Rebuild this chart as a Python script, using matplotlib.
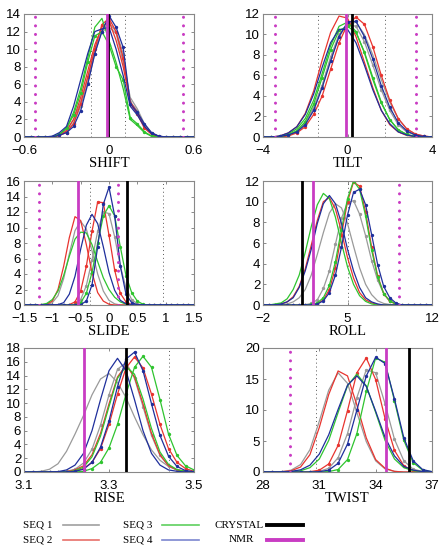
import numpy as np
import matplotlib
matplotlib.use("Agg")
import matplotlib.pyplot as plt
from matplotlib.lines import Line2D

plt.rcParams['font.family'] = ['Liberation Sans', 'DejaVu Sans']

# colours of the four sequences and the reference structures
seq_colors = ['#9a9a9a', '#e8342f', '#2fc42f', '#1f2f9c']
legend_colors = ['#a0a0a0', '#e8706a', '#5fcf5f', '#7b86d0']
seq_names = ['SEQ 1', 'SEQ 2', 'SEQ 3', 'SEQ 4']
crystal_color = 'black'
nmr_color = '#c93cc3'

# ---------------- SHIFT ----------------
shift_x = np.linspace(-0.6, 0.6, 25)
shift_seq1 = [[0, 0, 0, 0, 0, 0.3, 0.8, 2.0, 4.0, 6.8, 10.0, 12.0, 12.5, 11.8, 8.5, 4.5, 3.2, 1.5, 0.5, 0.1, 0, 0, 0, 0, 0],
              [0, 0, 0, 0, 0, 0.2, 0.6, 1.6, 3.5, 6.2, 9.5, 12.2, 13.0, 12.0, 9.5, 4.0, 3.0, 1.2, 0.4, 0.1, 0, 0, 0, 0, 0]]
shift_seq2 = [[0, 0, 0, 0, 0, 0.2, 0.7, 2.0, 4.5, 7.5, 10.5, 12.5, 13.2, 11.0, 8.0, 4.0, 2.8, 1.2, 0.4, 0, 0, 0, 0, 0, 0],
              [0, 0, 0, 0, 0, 0.2, 0.5, 1.5, 3.8, 6.8, 10.0, 12.8, 13.5, 12.0, 9.0, 3.8, 2.6, 1.0, 0.3, 0, 0, 0, 0, 0, 0]]
shift_seq3 = [[0, 0, 0, 0, 0, 0.3, 1.0, 2.8, 5.5, 9.0, 12.5, 13.5, 11.0, 8.5, 5.5, 2.0, 1.3, 0.5, 0.1, 0, 0, 0, 0, 0, 0],
              [0, 0, 0, 0, 0, 0.3, 1.0, 2.5, 5.0, 8.5, 11.5, 12.0, 10.5, 8.0, 6.5, 2.2, 1.5, 0.6, 0.1, 0, 0, 0, 0, 0, 0]]
shift_seq4 = [[0, 0, 0, 0, 0.1, 0.5, 1.2, 3.5, 6.5, 9.5, 12.0, 12.3, 12.5, 10.0, 7.0, 3.5, 2.5, 1.2, 0.4, 0.1, 0, 0, 0, 0, 0],
              [0, 0, 0, 0, 0, 0.2, 0.5, 1.2, 3.0, 6.0, 9.5, 12.0, 13.8, 12.5, 10.2, 3.8, 2.8, 1.5, 0.5, 0.1, 0, 0, 0, 0, 0]]

# ---------------- TILT ----------------
tilt_x = np.linspace(-4, 4, 21)
tilt_seq1 = [[0, 0, 0.05, 0.2, 0.6, 1.4, 2.9, 5.0, 7.6, 9.8, 11.0, 11.2, 10.0, 8.0, 5.6, 3.4, 1.8, 0.8, 0.3, 0.1, 0],
             [0, 0, 0.05, 0.2, 0.5, 1.3, 2.8, 5.0, 7.8, 10.0, 11.0, 10.8, 9.3, 7.0, 4.6, 2.6, 1.2, 0.5, 0.2, 0.05, 0]]
tilt_seq2 = [[0, 0, 0.1, 0.4, 1.0, 2.3, 4.5, 7.5, 10.2, 11.8, 11.6, 9.8, 7.3, 4.8, 2.6, 1.2, 0.5, 0.15, 0.05, 0, 0],
             [0, 0, 0, 0.1, 0.4, 1.0, 2.2, 4.0, 6.6, 9.2, 11.0, 11.7, 11.0, 8.8, 6.0, 3.6, 1.8, 0.8, 0.3, 0.1, 0]]
tilt_seq3 = [[0, 0, 0.05, 0.3, 0.8, 1.8, 3.6, 6.2, 8.9, 10.8, 11.2, 10.3, 8.2, 5.6, 3.3, 1.7, 0.7, 0.25, 0.05, 0, 0],
             [0, 0, 0.05, 0.2, 0.6, 1.5, 3.2, 5.8, 8.5, 10.4, 10.8, 10.2, 8.3, 5.8, 3.4, 1.7, 0.7, 0.25, 0.05, 0, 0]]
tilt_seq4 = [[0, 0, 0.1, 0.4, 1.0, 2.2, 4.2, 6.8, 9.2, 10.5, 10.5, 9.2, 7.0, 4.6, 2.6, 1.3, 0.5, 0.2, 0.05, 0, 0],
             [0, 0, 0.05, 0.2, 0.5, 1.2, 2.6, 4.8, 7.4, 9.8, 11.2, 11.3, 9.8, 7.6, 5.0, 2.9, 1.4, 0.6, 0.2, 0.05, 0]]

# ---------------- SLIDE ----------------
slide_x = np.linspace(-1.5, 1.5, 31)
slide_seq1 = [[0, 0, 0, 0, 0.05, 0.3, 1.2, 3.4, 6.6, 9.6, 10.8, 9.8, 7.0, 4.0, 1.8, 0.6, 0.15, 0, 0, 0, 0, 0, 0, 0, 0, 0, 0, 0, 0, 0, 0],
              [0, 0, 0, 0, 0, 0, 0, 0, 0, 0.1, 0.7, 2.5, 5.8, 9.5, 12.0, 11.8, 8.8, 5.0, 2.2, 0.7, 0.15, 0, 0, 0, 0, 0, 0, 0, 0, 0, 0]]
slide_seq2 = [[0, 0, 0, 0.02, 0.1, 0.5, 2.0, 5.0, 8.7, 11.4, 10.9, 7.8, 4.2, 1.6, 0.5, 0.1, 0, 0, 0, 0, 0, 0, 0, 0, 0, 0, 0, 0, 0, 0, 0],
              [0, 0, 0, 0, 0, 0, 0, 0, 0.05, 0.4, 1.8, 5.0, 9.5, 13.3, 13.2, 9.0, 4.5, 1.5, 0.4, 0.05, 0, 0, 0, 0, 0, 0, 0, 0, 0, 0, 0]]
slide_seq3 = [[0, 0, 0, 0.05, 0.2, 0.7, 1.8, 3.8, 6.3, 8.5, 9.4, 9.3, 7.8, 5.6, 3.5, 2.0, 1.0, 0.4, 0.1, 0, 0, 0, 0, 0, 0, 0, 0, 0, 0, 0, 0],
              [0, 0, 0, 0, 0, 0, 0, 0, 0, 0.05, 0.3, 1.5, 4.2, 8.0, 11.5, 12.8, 11.5, 7.5, 3.8, 1.6, 0.5, 0.1, 0, 0, 0, 0, 0, 0, 0, 0, 0]]
slide_seq4 = [[0, 0, 0, 0, 0, 0, 0.05, 0.3, 1.4, 3.7, 7.2, 10.3, 11.7, 10.5, 7.5, 4.2, 1.9, 0.6, 0.15, 0, 0, 0, 0, 0, 0, 0, 0, 0, 0, 0, 0],
              [0, 0, 0, 0, 0, 0, 0, 0, 0, 0, 0.05, 0.5, 2.6, 7.5, 13.0, 15.2, 11.5, 5.0, 1.4, 0.3, 0.05, 0, 0, 0, 0, 0, 0, 0, 0, 0, 0]]

# ---------------- ROLL ----------------
roll_x = np.linspace(-2, 12, 29)
roll_seq1 = [[0, 0, 0, 0.05, 0.1, 0.3, 0.7, 1.5, 2.9, 4.9, 7.0, 8.9, 9.8, 9.4, 7.9, 5.7, 3.6, 2.0, 1.0, 0.4, 0.15, 0.05, 0, 0, 0, 0, 0, 0, 0],
             [0, 0, 0, 0, 0, 0, 0, 0.03, 0.15, 0.5, 1.6, 3.3, 5.9, 8.4, 9.9, 10.1, 8.8, 6.7, 4.3, 2.4, 1.1, 0.4, 0.1, 0, 0, 0, 0, 0, 0]]
roll_seq2 = [[0, 0, 0, 0.1, 0.3, 0.8, 1.8, 3.5, 5.8, 8.2, 10.0, 10.4, 9.3, 7.1, 4.6, 2.6, 1.2, 0.5, 0.2, 0.05, 0, 0, 0, 0, 0, 0, 0, 0, 0],
             [0, 0, 0, 0, 0, 0, 0, 0, 0.03, 0.1, 0.5, 1.5, 3.6, 6.8, 10.0, 11.9, 11.5, 9.0, 5.6, 2.8, 1.1, 0.35, 0.1, 0, 0, 0, 0, 0, 0]]
roll_seq3 = [[0, 0, 0.1, 0.2, 0.6, 1.5, 2.9, 5.1, 7.6, 9.7, 10.8, 10.3, 8.5, 6.0, 3.7, 2.0, 0.9, 0.35, 0.1, 0, 0, 0, 0, 0, 0, 0, 0, 0, 0],
             [0, 0, 0, 0, 0, 0, 0, 0, 0.06, 0.2, 0.7, 1.9, 4.2, 7.3, 10.3, 12.0, 11.2, 8.6, 5.3, 2.7, 1.1, 0.4, 0.1, 0, 0, 0, 0, 0, 0]]
roll_seq4 = [[0, 0, 0, 0.1, 0.3, 0.7, 1.7, 3.3, 5.4, 7.9, 9.8, 10.6, 9.8, 7.9, 5.4, 3.3, 1.7, 0.7, 0.3, 0.1, 0, 0, 0, 0, 0, 0, 0, 0, 0],
             [0, 0, 0, 0, 0, 0, 0, 0, 0.02, 0.1, 0.4, 1.2, 2.9, 5.6, 8.7, 10.9, 11.2, 9.7, 6.8, 3.9, 1.8, 0.7, 0.2, 0, 0, 0, 0, 0, 0]]

# ---------------- RISE ----------------
rise_x = np.linspace(3.1, 3.5, 21)
rise_seq1 = [[0, 0, 0.1, 0.4, 1.2, 3.0, 5.5, 8.2, 11.2, 13.5, 14.3, 13.0, 10.8, 8.0, 5.4, 3.2, 1.7, 0.8, 0.3, 0.1, 0],
             [0, 0, 0, 0, 0, 0.1, 0.4, 1.3, 3.3, 6.8, 11.2, 14.9, 15.9, 13.6, 9.5, 5.3, 2.4, 0.9, 0.3, 0.1, 0]]
rise_seq2 = [[0, 0, 0, 0, 0, 0.05, 0.3, 0.9, 2.5, 5.6, 9.9, 13.8, 15.5, 13.8, 9.9, 5.6, 2.5, 0.9, 0.3, 0.1, 0],
             [0, 0, 0, 0, 0, 0.05, 0.1, 0.5, 1.4, 3.4, 6.9, 11.3, 15.1, 16.7, 15.1, 11.3, 6.9, 3.4, 1.4, 0.5, 0.1]]
rise_seq3 = [[0, 0, 0, 0, 0, 0, 0.2, 0.7, 2.2, 5.2, 9.5, 13.6, 15.3, 14.2, 10.6, 6.3, 2.9, 1.1, 0.35, 0.1, 0],
             [0, 0, 0, 0, 0, 0, 0, 0.1, 0.5, 1.4, 3.5, 6.9, 11.3, 15.2, 16.8, 15.2, 10.5, 5.5, 2.4, 0.9, 0.3]]
rise_seq4 = [[0, 0, 0, 0, 0.05, 0.3, 1.0, 2.7, 6.0, 10.5, 14.7, 16.5, 14.7, 10.5, 6.0, 2.7, 1.0, 0.3, 0.1, 0, 0],
             [0, 0, 0, 0, 0, 0, 0.1, 0.4, 1.4, 3.6, 7.4, 12.4, 16.4, 17.4, 14.7, 9.9, 5.3, 2.3, 0.8, 0.2, 0.05]]

# ---------------- TWIST ----------------
twist_x = np.linspace(28, 37, 19)
twist_seq1 = [[0, 0, 0.05, 0.3, 1.2, 3.6, 8.2, 13.2, 16.0, 14.3, 9.6, 4.9, 1.8, 0.5, 0.1, 0, 0, 0, 0],
              [0, 0, 0, 0, 0, 0, 0.1, 0.6, 2.3, 6.2, 12.0, 16.5, 16.0, 11.0, 5.3, 1.8, 0.45, 0.1, 0]]
twist_seq2 = [[0, 0, 0.05, 0.2, 0.8, 2.8, 7.2, 12.5, 16.3, 15.5, 10.8, 5.5, 2.0, 0.6, 0.1, 0, 0, 0, 0],
              [0, 0, 0, 0, 0, 0.05, 0.3, 1.3, 4.3, 9.9, 16.0, 18.4, 14.9, 8.6, 3.5, 1.0, 0.2, 0.05, 0]]
twist_seq3 = [[0, 0, 0, 0.05, 0.2, 0.7, 2.1, 5.1, 9.6, 13.9, 15.8, 13.9, 9.6, 5.1, 2.1, 0.7, 0.2, 0.05, 0],
              [0, 0, 0, 0, 0, 0, 0, 0.06, 0.4, 2.0, 6.2, 13.0, 18.4, 17.7, 11.5, 5.1, 1.5, 0.3, 0.05]]
twist_seq4 = [[0, 0, 0.02, 0.1, 0.35, 1.1, 2.9, 6.0, 10.1, 14.0, 15.5, 13.8, 9.8, 5.6, 2.6, 0.9, 0.3, 0.05, 0],
              [0, 0, 0, 0, 0, 0, 0.05, 0.3, 1.4, 4.5, 10.0, 15.5, 18.5, 17.5, 11.8, 5.5, 1.8, 0.4, 0.05]]

# reference values: crystal, NMR, NMR range (dotted magenta), other range (dotted grey)
crystal_vals = [-0.005, 0.2, 0.31, 1.26, 3.34, 35.78]
nmr_vals = [-0.015, -0.08, -0.54, 2.17, 3.24, 34.54]
nmr_range = [[-0.525, 0.52], [-3.41, 3.22], [-1.23, 0.15], [9.3], [], [29.45]]
grey_range = [[-0.13, 0.113], [-1.38, 1.76], [-0.34, 0.96], [5.0], [3.44], [30.83]]

names = ['SHIFT', 'TILT', 'SLIDE', 'ROLL', 'RISE', 'TWIST']
xs = [shift_x, tilt_x, slide_x, roll_x, rise_x, twist_x]
curves = [
    [shift_seq1, shift_seq2, shift_seq3, shift_seq4],
    [tilt_seq1, tilt_seq2, tilt_seq3, tilt_seq4],
    [slide_seq1, slide_seq2, slide_seq3, slide_seq4],
    [roll_seq1, roll_seq2, roll_seq3, roll_seq4],
    [rise_seq1, rise_seq2, rise_seq3, rise_seq4],
    [twist_seq1, twist_seq2, twist_seq3, twist_seq4],
]
xticks = [[-0.6, 0, 0.6], [-4, 0, 4], [-1.5, -1, -0.5, 0, 0.5, 1, 1.5],
          [-2, 5, 12], [3.1, 3.3, 3.5], [28, 31, 34, 37]]
xticklabels = [['\u22120.6', '0', '0.6'], ['\u22124', '0', '4'],
               ['\u22121.5', '\u22121', '\u22120.5', '0', '0.5', '1', '1.5'],
               ['\u22122', '5', '12'], ['3.1', '3.3', '3.5'], ['28', '31', '34', '37']]
yticks = [np.arange(0, 15, 2), np.arange(0, 13, 2), np.arange(0, 17, 2),
          np.arange(0, 13, 2), np.arange(0, 19, 2), np.arange(0, 21, 5)]

fig = plt.figure(figsize=(4.45, 5.45), dpi=100)

W, H = 445, 545
lefts = [24, 263]
rows = [(14, 137), (181, 305), (348, 472)]
widths = [170, 169]

for i in range(6):
    r, c = divmod(i, 2)
    top, bot = rows[r]
    ax = fig.add_axes([lefts[c] / W, (H - bot) / H, widths[c] / W, (bot - top) / H])

    x = xs[i]
    for k in range(4):
        a, b = curves[i][k]
        ax.plot(x, a, color=seq_colors[k], lw=0.9, zorder=2)
        ax.plot(x, b, color=seq_colors[k], lw=0.9, marker='o', ms=1.4, zorder=2)

    for v in grey_range[i]:
        ax.axvline(v, color='#555555', lw=0.7, ls=(0, (1, 3)), zorder=1)
    for v in nmr_range[i]:
        ax.axvline(v, color=nmr_color, lw=2.2, ls=(0, (0.01, 2.8)),
                   dash_capstyle='round', zorder=3)
    ax.axvline(crystal_vals[i], color=crystal_color, lw=2.0, zorder=4)
    ax.axvline(nmr_vals[i], color=nmr_color, lw=2.0, zorder=5)

    ax.set_xlim(xticks[i][0], xticks[i][-1])
    ax.set_ylim(0, yticks[i][-1])
    ax.set_xticks(xticks[i])
    ax.set_xticklabels(xticklabels[i])
    ax.set_yticks(yticks[i])
    ax.tick_params(direction='in', length=2, width=0.6, color='#777777',
                   labelsize=9.5, top=True, right=True)
    ax.tick_params(axis='x', pad=6)
    ax.tick_params(axis='y', pad=2)
    for s in ax.spines.values():
        s.set_color('#888888')
        s.set_linewidth(0.8)
    ax.set_xlabel(names[i], family='Liberation Serif', fontsize=10.5, labelpad=0)

# legend drawn by hand in pixel positions (text left of the line)
legend_rows = [525, 540]
legend_text_x = [[23, 23], [123, 123], [239, 241]]
legend_line_x = [(63, 99), (162, 199), (267, 303)]
legend_labels = [seq_names[0:2], seq_names[2:4], ['CRYSTAL', 'NMR']]
legend_line_colors = [legend_colors[0:2], legend_colors[2:4], [crystal_color, nmr_color]]
legend_line_widths = [1.2, 1.2, 2.8]

for col in range(3):
    for row in range(2):
        y = 1 - legend_rows[row] / H
        ha = 'center' if col == 2 else 'left'
        fig.text(legend_text_x[col][row] / W, y, legend_labels[col][row],
                 family='Liberation Serif', fontsize=8, ha=ha, va='center')
        x0, x1 = legend_line_x[col]
        fig.add_artist(Line2D([x0 / W, x1 / W], [y, y], transform=fig.transFigure,
                              color=legend_line_colors[col][row],
                              lw=legend_line_widths[col]))

fig.savefig('out.png', dpi=100)
